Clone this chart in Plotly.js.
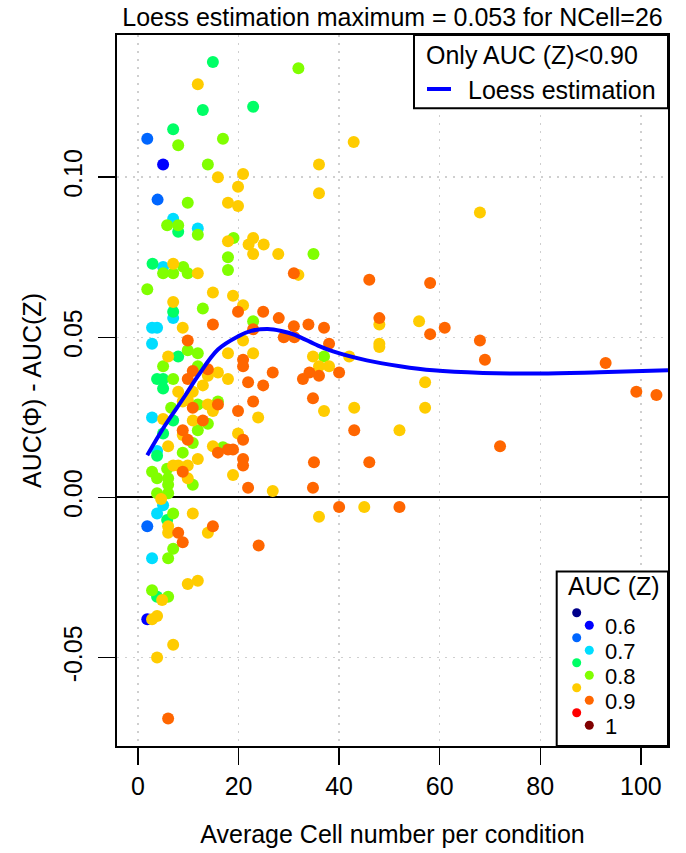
<!DOCTYPE html>
<html><head><meta charset="utf-8">
<script src="https://cdn.plot.ly/plotly-3.0.1.min.js"></script>
<style>body{margin:0;background:#fff}#chart{width:686px;height:853px}</style>
</head><body><div id="chart"></div>
<script>
// AUC(Z) bin 0.60
const x060 = [5.0, 1.85];
const y060 = [0.104, -0.038];
// AUC(Z) bin 0.65
const x065 = [1.85, 3.9, 1.85];
const y065 = [0.112, 0.093, -0.009];
// AUC(Z) bin 0.70
const x070 = [7.0, 11.9, 5.0, 7.0, 2.8, 3.8, 2.8, 2.8, 3.8, 5.0, 3.8, 2.8];
const y070 = [0.087, 0.084, 0.072, 0.056, 0.053, 0.053, 0.048, 0.025, 0.0145, -0.0024, -0.005, -0.019];
// AUC(Z) bin 0.75
const x075 = [14.9, 12.9, 22.9, 7.0, 8.0, 2.9, 7.0, 8.0, 3.8, 5.0, 5.0, 7.0, 5.0, 3.8, 5.8, 3.8];
const y075 = [0.136, 0.121, 0.122, 0.115, 0.083, 0.073, 0.058, 0.044, 0.037, 0.037, 0.034, 0.024, 0.020, 0.013, -0.007, -0.031];
// AUC(Z) bin 0.80
const x080 = [31.9, 8.0, 16.9, 13.9, 9.9, 5.8, 8.0, 11.9, 19.0, 34.9, 17.9, 9.0, 9.9, 5.0, 7.0, 17.9, 1.85, 12.9, 22.9, 9.9, 11.9, 5.0, 11.9, 7.0, 15.9, 11.9, 6.6, 13.9, 11.9, 10.9, 8.9, 16.9, 5.8, 2.8, 3.8, 6.0, 10.9, 6.0, 3.8, 6.0, 37.0, 7.0, 7.0, 6.0, 2.8, 6.0];
const y080 = [0.134, 0.110, 0.112, 0.104, 0.092, 0.085, 0.085, 0.082, 0.081, 0.076, 0.075, 0.072, 0.070, 0.070, 0.070, 0.071, 0.065, 0.059, 0.055, 0.046, 0.045, 0.041, 0.041, 0.037, 0.030, 0.029, 0.028, 0.023, 0.021, 0.017, 0.014, 0.0157, 0.009, 0.008, 0.006, 0.006, 0.004, 0.004, 0.0013, 0.0013, 0.044, -0.005, -0.016, -0.019, -0.029, -0.031];
// AUC(Z) bin 0.85
const x085 = [11.9, 15.9, 20.9, 36.0, 42.9, 36.0, 68.0, 19.9, 17.9, 19.9, 17.9, 22.9, 22.0, 25.0, 22.9, 27.9, 7.0, 11.9, 31.9, 14.9, 18.9, 7.0, 20.9, 8.9, 20.9, 6.0, 17.9, 22.9, 34.8, 15.9, 13.9, 17.9, 12.9, 8.0, 10.9, 9.9, 8.9, 13.9, 14.9, 23.9, 5.0, 10.9, 8.9, 19.9, 6.0, 14.9, 11.9, 7.0, 8.0, 9.9, 9.9, 18.9, 26.8, 4.6, 48.0, 55.9, 48.0, 48.0, 42.0, 36.0, 38.0, 57.1, 37.0, 43.0, 57.1, 52.0, 45.0, 36.0, 10.9, 6.0, 6.0, 13.9, 9.9, 11.9, 4.8, 3.8, 2.8, 7.0, 3.8];
const y085 = [0.129, 0.100, 0.101, 0.104, 0.111, 0.095, 0.089, 0.097, 0.092, 0.091, 0.080, 0.081, 0.079, 0.079, 0.076, 0.076, 0.073, 0.070, 0.0695, 0.064, 0.063, 0.061, 0.060, 0.053, 0.049, 0.044, 0.045, 0.045, 0.044, 0.039, 0.038, 0.037, 0.035, 0.033, 0.033, 0.0305, 0.030, 0.029, 0.027, 0.025, 0.0245, 0.024, 0.0195, 0.020, 0.016, 0.016, 0.012, 0.010, 0.010, 0.010, 0.006, 0.007, 0.002, -0.0005, 0.054, 0.055, 0.048, 0.047, 0.044, 0.041, 0.041, 0.036, 0.027, 0.028, 0.028, 0.021, -0.003, -0.006, -0.005, -0.009, -0.011, -0.011, -0.027, -0.026, -0.032, -0.037, -0.038, -0.046, -0.050];
// AUC(Z) bin 0.90
const x090 = [31.0, 46.0, 19.9, 24.9, 28.0, 31.0, 33.9, 14.9, 22.9, 9.9, 29.0, 31.1, 20.9, 20.9, 13.9, 10.9, 26.8, 32.8, 34.1, 9.9, 21.9, 24.9, 34.8, 22.9, 15.9, 10.9, 19.9, 12.9, 8.9, 9.9, 20.9, 15.9, 17.9, 18.9, 20.9, 8.9, 20.9, 21.9, 58.1, 37.0, 48.0, 58.1, 61.0, 38.0, 68.0, 69.0, 93.0, 36.0, 40.0, 99.1, 103.1, 43.0, 72.0, 35.0, 46.0, 34.8, 40.0, 52.0, 8.0, 14.9, 8.9, 24.0, 6.0];
const y090 = [0.070, 0.068, 0.058, 0.058, 0.056, 0.0535, 0.054, 0.054, 0.0525, 0.049, 0.050, 0.050, 0.043, 0.041, 0.040, 0.0395, 0.039, 0.037, 0.039, 0.037, 0.036, 0.035, 0.031, 0.030, 0.029, 0.028, 0.027, 0.024, 0.021, 0.018, 0.018, 0.014, 0.015, 0.015, 0.012, 0.008, 0.010, 0.003, 0.067, 0.053, 0.056, 0.051, 0.053, 0.048, 0.049, 0.043, 0.042, 0.038, 0.039, 0.033, 0.032, 0.021, 0.016, 0.011, 0.011, 0.003, -0.003, -0.003, -0.011, -0.009, -0.014, -0.015, -0.069];

// Loess curve
const loessX = [1.85, 5.3, 9.3, 11.9, 15.9, 19.9, 22.5, 25.8, 28.5, 31.2, 35.8, 38.8, 45.5, 52.1, 58.7, 68.6, 79.9, 91.8, 105.4];
const loessY = [0.0132, 0.0223, 0.0316, 0.0379, 0.0462, 0.0503, 0.0520, 0.0526, 0.0520, 0.0508, 0.0474, 0.0456, 0.0428, 0.0410, 0.0397, 0.0389, 0.0387, 0.0391, 0.0397];

// AUC(Z) colour key
const keyValues = [0.55, 0.60, 0.65, 0.70, 0.75, 0.80, 0.85, 0.90, 0.95, 1.00];
const keyColors = ['#00008B', '#0000FF', '#0066FF', '#00DDFF', '#00FF66', '#80FF00', '#FFCC00', '#FF6600', '#FF0000', '#800000'];
const keyLabels = ['', '0.6', '', '0.7', '', '0.8', '', '0.9', '', '1'];

const xTicks = [0, 20, 40, 60, 80, 100];
const yTicks = [-0.05, 0, 0.05, 0.10];
const yTickText = ['-0.05', '0.00', '0.05', '0.10'];

const FONT = 'Liberation Sans, Arial, Helvetica, sans-serif';
function colorOf(v){
  let best = 0;
  keyValues.forEach((k,i)=>{ if (Math.abs(k-v) < Math.abs(keyValues[best]-v)) best = i; });
  return keyColors[best];
}
const groups = [[0.60,x060,y060],[0.65,x065,y065],[0.70,x070,y070],[0.75,x075,y075],[0.80,x080,y080],[0.85,x085,y085],[0.90,x090,y090]];
const traces = groups.map(g => ({
  type:'scatter', mode:'markers', x:g[1], y:g[2], showlegend:false, hoverinfo:'skip',
  marker:{size:12, color:colorOf(g[0]), line:{width:0}}
}));
traces.push({type:'scatter', mode:'lines', x:loessX, y:loessY, name:'Loess estimation',
  line:{color:'#0000FF', width:4, shape:'spline'}, showlegend:false});

// plot area in pixels (for the legend boxes)
const PL=117, PR=668, PT=35, PB=746, PW=PR-PL, PH=PB-PT;
const fx = p => (p-PL)/PW, fy = p => (PB-p)/PH;
const txt = (s, px, py, size) => ({xref:'paper', yref:'paper', x:fx(px), y:fy(py), xanchor:'left', yanchor:'middle',
  text:s, showarrow:false, font:{family:FONT, size:size||25, color:'#000'}});

const shapes = [
  // top-right legend box
  {type:'rect', xref:'paper', yref:'paper', x0:fx(414), x1:1, y0:fy(108.3), y1:1,
   line:{color:'#000', width:2}, fillcolor:'#fff', layer:'above'},
  {type:'line', xref:'paper', yref:'paper', x0:fx(427), x1:fx(451), y0:fy(89), y1:fy(89),
   line:{color:'#0000FF', width:4}, layer:'above'},
  // colour key box
  {type:'rect', xref:'paper', yref:'paper', x0:fx(556.7), x1:1, y0:0, y1:fy(571.5),
   line:{color:'#000', width:2}, fillcolor:'#fff', layer:'above'}
];
const annotations = [
  txt('Only AUC (Z)<0.90', 424, 55),
  txt('Loess estimation', 466, 90),
  txt('AUC (Z)', 566, 586)
];
keyColors.forEach((c,i)=>{
  const cx = (i%2===0) ? 576.7 : 589.3, cy = 612.7 + 12.5*i, r = 4.5;
  shapes.push({type:'circle', xref:'paper', yref:'paper', x0:fx(cx-r), x1:fx(cx+r), y0:fy(cy+r), y1:fy(cy-r),
    fillcolor:c, line:{width:0}, layer:'above'});
  if (keyLabels[i]) annotations.push(txt(keyLabels[i], 603, cy+1, 22));
});

const axisCommon = {
  showline:true, linecolor:'#000', linewidth:2, mirror:true,
  ticks:'outside', ticklen:17, tickwidth:1.5, tickcolor:'#000',
  showgrid:true, gridcolor:'#cfcfcf', gridwidth:1.5, griddash:'2px,6px',
  tickfont:{family:FONT, size:25, color:'#000'}
};
const layout = {
  width:686, height:853,
  margin:{l:PL, r:686-PR, t:PT, b:853-PB, pad:0},
  paper_bgcolor:'#fff', plot_bgcolor:'#fff',
  font:{family:FONT, size:25, color:'#000'},
  title:{text:'Loess estimation maximum = 0.053 for NCell=26', x:0.5, xref:'paper', y:1-17/853, yref:'container', yanchor:'middle', font:{family:FONT, size:25, color:'#000'}},
  xaxis:Object.assign({}, axisCommon, {range:[-4.17, 105.4], tickvals:xTicks, zeroline:false, ticklabelstandoff:0,
    title:{text:'Average Cell number per condition', standoff:26, font:{family:FONT, size:25, color:'#000'}}}),
  yaxis:Object.assign({}, axisCommon, {range:[-0.0776, 0.1444], tickvals:yTicks, ticktext:yTickText, tickangle:-90,
    zeroline:true, zerolinecolor:'#000', zerolinewidth:2, ticklabelstandoff:6,
    title:{text:'AUC(Φ) - AUC(Z)', standoff:10, font:{family:FONT, size:25, color:'#000'}}}),
  showlegend:false,
  shapes:shapes, annotations:annotations
};
Plotly.newPlot('chart', traces, layout, {displayModeBar:false, staticPlot:true});
</script>
</body></html>
